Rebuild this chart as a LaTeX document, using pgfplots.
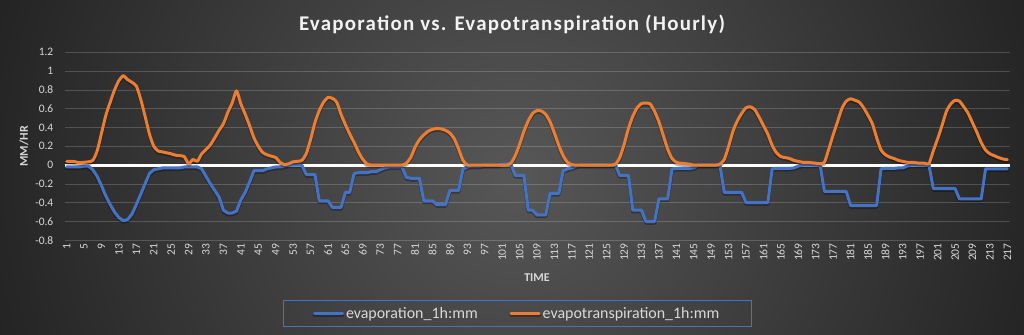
\documentclass[border=0pt]{standalone}
\usepackage{fontspec}
\setmainfont{Carlito}
\usepackage{pgfplots}
\pgfplotsset{compat=1.18}
\usepackage{pgfplotstable}
\definecolor{evapblue}{HTML}{4472C4}
\definecolor{etorange}{HTML}{ED7D31}
\definecolor{bgin}{HTML}{575757}
\definecolor{bgout}{HTML}{222222}
\definecolor{ticktext}{HTML}{D9D9D9}
\definecolor{titletext}{HTML}{F2F2F2}

\pgfplotstableread{
x evap et
1 -0.02 0.04
2 -0.02 0.04
3 -0.02 0.035
4 -0.02 0.025
5 -0.01 0.03
6 -0.01 0.035
7 -0.05 0.05
8 -0.12 0.15
9 -0.22 0.34
10 -0.33 0.53
11 -0.42 0.67
12 -0.50 0.80
13 -0.56 0.90
14 -0.59 0.95
15 -0.58 0.91
16 -0.52 0.88
17 -0.42 0.84
18 -0.31 0.70
19 -0.20 0.52
20 -0.09 0.33
21 -0.05 0.20
22 -0.04 0.15
23 -0.03 0.14
24 -0.03 0.13
25 -0.03 0.12
26 -0.03 0.105
27 -0.03 0.10
28 -0.02 0.09
29 -0.02 0.015
30 -0.02 0.06
31 -0.02 0.04
32 -0.04 0.12
33 -0.12 0.165
34 -0.20 0.215
35 -0.27 0.29
36 -0.34 0.37
37 -0.48 0.44
38 -0.51 0.56
39 -0.51 0.66
40 -0.49 0.79
41 -0.37 0.65
42 -0.29 0.54
43 -0.18 0.42
44 -0.06 0.29
45 -0.06 0.20
46 -0.06 0.135
47 -0.04 0.11
48 -0.03 0.095
49 -0.02 0.08
50 -0.02 0.03
51 -0.01 0.005
52 0.00 0.015
53 0.00 0.035
54 0.00 0.04
55 0.00 0.05
56 -0.10 0.12
57 -0.10 0.27
58 -0.10 0.45
59 -0.38 0.58
60 -0.38 0.67
61 -0.38 0.72
62 -0.45 0.71
63 -0.45 0.67
64 -0.45 0.54
65 -0.29 0.43
66 -0.29 0.33
67 -0.09 0.24
68 -0.08 0.14
69 -0.08 0.06
70 -0.08 0.01
71 -0.07 0
72 -0.07 0
73 -0.05 0
74 -0.03 0
75 -0.02 0
76 -0.02 0
77 -0.02 0
78 -0.02 0
79 -0.13 0.02
80 -0.14 0.08
81 -0.14 0.19
82 -0.14 0.27
83 -0.38 0.32
84 -0.38 0.36
85 -0.38 0.38
86 -0.42 0.39
87 -0.42 0.385
88 -0.42 0.37
89 -0.27 0.34
90 -0.27 0.28
91 -0.27 0.17
92 -0.04 0.05
93 -0.02 0
94 -0.01 0
95 -0.01 0
96 -0.01 0
97 0 0
98 0 0
99 0 0
100 0 0
101 0.01 0
102 0.01 0
103 0.01 0.02
104 -0.11 0.10
105 -0.11 0.22
106 -0.11 0.36
107 -0.48 0.47
108 -0.48 0.55
109 -0.53 0.58
110 -0.53 0.575
111 -0.53 0.54
112 -0.30 0.46
113 -0.30 0.34
114 -0.30 0.21
115 -0.06 0.10
116 -0.04 0.03
117 -0.03 0.005
118 -0.01 0
119 0 0
120 0 0
121 0 0
122 0 0
123 0 0
124 0 0
125 0 0
126 0 0
127 0 0.01
128 -0.11 0.08
129 -0.11 0.22
130 -0.11 0.39
131 -0.48 0.52
132 -0.48 0.61
133 -0.48 0.655
134 -0.60 0.66
135 -0.60 0.65
136 -0.60 0.57
137 -0.36 0.46
138 -0.36 0.315
139 -0.36 0.17
140 -0.04 0.07
141 -0.035 0.03
142 -0.035 0.02
143 -0.035 0.015
144 -0.035 0.01
145 -0.03 0
146 0 0
147 0 0
148 0 0
149 0 0
150 0 0
151 0 0.01
152 -0.29 0.06
153 -0.29 0.20
154 -0.29 0.36
155 -0.29 0.47
156 -0.29 0.55
157 -0.40 0.61
158 -0.40 0.62
159 -0.40 0.59
160 -0.40 0.51
161 -0.40 0.42
162 -0.40 0.33
163 -0.04 0.21
164 -0.035 0.13
165 -0.035 0.09
166 -0.035 0.08
167 -0.035 0.07
168 -0.03 0.05
169 -0.01 0.04
170 0 0.03
171 0 0.03
172 0 0.025
173 0 0.02
174 0 0.015
175 -0.28 0.03
176 -0.28 0.17
177 -0.28 0.32
178 -0.28 0.46
179 -0.28 0.60
180 -0.28 0.68
181 -0.43 0.705
182 -0.43 0.69
183 -0.43 0.67
184 -0.43 0.61
185 -0.43 0.53
186 -0.43 0.44
187 -0.43 0.29
188 -0.04 0.16
189 -0.035 0.11
190 -0.035 0.085
191 -0.035 0.07
192 -0.03 0.05
193 -0.03 0.04
194 -0.01 0.03
195 0 0.03
196 0 0.025
197 0 0.02
198 0 0.02
199 0 0.015
200 -0.25 0.15
201 -0.25 0.28
202 -0.25 0.42
203 -0.25 0.57
204 -0.25 0.65
205 -0.25 0.69
206 -0.36 0.68
207 -0.36 0.62
208 -0.36 0.55
209 -0.36 0.45
210 -0.36 0.35
211 -0.36 0.24
212 -0.04 0.16
213 -0.04 0.12
214 -0.04 0.10
215 -0.04 0.08
216 -0.04 0.065
217 -0.04 0.057
}\datatable

\begin{document}
\begin{tikzpicture}
\useasboundingbox (0,0) rectangle (1024bp,335bp);
\fill[bgout] (0,0) rectangle (1024bp,335bp);
\begin{scope}
\clip (0,0) rectangle (1024bp,335bp);
\shade[inner color=bgin, outer color=bgout] (515bp,160bp) circle (560bp);
\end{scope}
\node[text=titletext, font=\fontsize{21}{25}\selectfont\bfseries\addfontfeature{LetterSpace=6}] at (512bp,311bp) {Evaporation vs. Evapotranspiration (Hourly)};
\begin{axis}[
  at={(64.5bp,94.7bp)}, anchor=south west,
  width=945bp, height=188bp, scale only axis,
  xmin=0.5, xmax=217.5, ymin=-0.8, ymax=1.2,
  xtick={1,5,...,217},
  ytick={-0.8,-0.6,-0.4,-0.2,0,0.2,0.4,0.6,0.8,1,1.2},
  ymajorgrids,
  major grid style={white, opacity=0.18, line width=0.8bp},
  extra y ticks={0}, extra y tick labels={},
  extra y tick style={grid=major, major grid style={white, opacity=1, line width=3bp}},
  axis line style={draw=none}, major tick length=0pt,
  tick label style={font=\fontsize{11.5}{13}\selectfont, text=ticktext},
  /pgf/number format/assume math mode=true,
  yticklabel style={/pgf/number format/fixed, /pgf/number format/precision=1, anchor=east, inner sep=0pt},
  yticklabel shift=11bp,
  xticklabel style={rotate=90, anchor=east, inner sep=0pt},
  xticklabel shift=3bp,
  xlabel={TIME}, ylabel={MM/HR},
  xlabel style={at={(axis description cs:0.5,-0.2005)}, anchor=center, font=\fontsize{12}{14}\selectfont\bfseries, text=ticktext},
  ylabel style={at={(axis description cs:-0.0429,0.5)}, anchor=center, font=\fontsize{12}{14}\selectfont\bfseries, text=ticktext},
  legend columns=2,
  legend style={at={(axis description cs:0.479,-0.389)}, anchor=center, draw=evapblue, line width=0.8bp, fill=none, text=ticktext, font=\fontsize{16}{19}\selectfont, inner xsep=30bp, inner ysep=5bp, /tikz/every even column/.append style={column sep=30bp}},
  legend image code/.code={\draw[#1, line width=3bp] (0bp,0bp) -- (28bp,0bp);},
]
\addplot[evapblue, line width=3bp, line join=round, line cap=round,
  preaction={draw=black, draw opacity=0.3, line width=3.5bp, transform canvas={yshift=-1.5bp}}] table[x=x, y=evap] {\datatable};
\addlegendentry{evaporation\_1h:mm}
\addplot[etorange, line width=3bp, line join=round, line cap=round, smooth, tension=0.4,
  preaction={draw=black, draw opacity=0.3, line width=3.5bp, transform canvas={yshift=-1.5bp}}] table[x=x, y=et] {\datatable};
\addlegendentry{evapotranspiration\_1h:mm}
\end{axis}
\end{tikzpicture}
\end{document}
